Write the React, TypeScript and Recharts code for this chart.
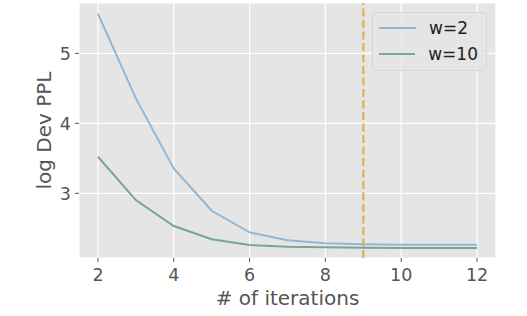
import { LineChart, Line, XAxis, YAxis, CartesianGrid, ReferenceLine, Label } from 'recharts';

const iterations = [2, 3, 4, 5, 6, 7, 8, 9, 10, 11, 12];
const w2 = [5.566, 4.357, 3.357, 2.751, 2.443, 2.329, 2.286, 2.271, 2.266, 2.266, 2.266];
const w10 = [3.523, 2.904, 2.533, 2.343, 2.261, 2.237, 2.23, 2.222, 2.219, 2.219, 2.219];
const xTicks = [2, 4, 6, 8, 10, 12];
const yTicks = [3, 4, 5];
const markerIteration = 9;

const data = iterations.map((it, i) => ({ iter: it, w2: w2[i], w10: w10[i] }));

const FONT = '"DejaVu Sans", sans-serif';
const C_W2 = '#94B6D6';
const C_W10 = '#76A796';

const legendItems = [
  { name: 'w=2', color: C_W2 },
  { name: 'w=10', color: C_W10 },
];

// drawn on top of the chart so it doesn't eat into the plot area
const ChartLegend = () => (
  <div
    style={{
      position: 'absolute',
      left: 372,
      top: 12,
      width: 115,
      boxSizing: 'border-box',
      background: 'rgba(229,229,229,0.85)',
      border: '1px solid #d6d6d6',
      borderRadius: 4,
      padding: '2px 8px 3px 6px',
      fontFamily: FONT,
      fontSize: 17,
      color: '#222',
    }}
  >
    {legendItems.map((e) => (
      <div key={e.name} style={{ display: 'flex', alignItems: 'center', height: 26 }}>
        <div style={{ width: 37, height: 2, background: e.color, marginRight: 13 }} />
        <span>{e.name}</span>
      </div>
    ))}
  </div>
);

export default function App() {
  return (
    <div style={{ position: 'absolute', left: 0, top: 0, width: 527, height: 316 }}>
      <LineChart width={527} height={316} data={data} margin={{ top: 3, right: 31, bottom: 0, left: 0 }}>
        <CartesianGrid fill="#E5E5E5" stroke="#ffffff" strokeWidth={1.2} />
        <XAxis
          type="number"
          dataKey="iter"
          domain={[1.5, 12.5]}
          ticks={xTicks}
          allowDataOverflow
          height={58}
          axisLine={false}
          stroke="#555"
          tickSize={4}
          tickMargin={7}
          tick={{ fill: '#555', fontSize: 17.5, fontFamily: FONT }}
        >
          <Label value="# of iterations" position="center" dy={11} style={{ fill: '#555', fontSize: 20, fontFamily: FONT }} />
        </XAxis>
        <YAxis
          type="number"
          domain={[2.076, 5.72]}
          ticks={yTicks}
          allowDataOverflow
          width={79}
          axisLine={false}
          stroke="#555"
          tickSize={4}
          tickMargin={4}
          tick={{ fill: '#555', fontSize: 17.5, fontFamily: FONT }}
        >
          <Label value="log Dev PPL" position="center" angle={-90} dx={4} style={{ fill: '#555', fontSize: 20, fontFamily: FONT, textAnchor: 'middle' }} />
        </YAxis>
        <ReferenceLine x={markerIteration} stroke="#E2B660" strokeWidth={2.5} strokeDasharray="8 3.5" />
        <Line type="linear" dataKey="w2" name="w=2" stroke={C_W2} strokeWidth={2} dot={false} isAnimationActive={false} />
        <Line type="linear" dataKey="w10" name="w=10" stroke={C_W10} strokeWidth={2} dot={false} isAnimationActive={false} />
      </LineChart>
      <ChartLegend />
    </div>
  );
}
